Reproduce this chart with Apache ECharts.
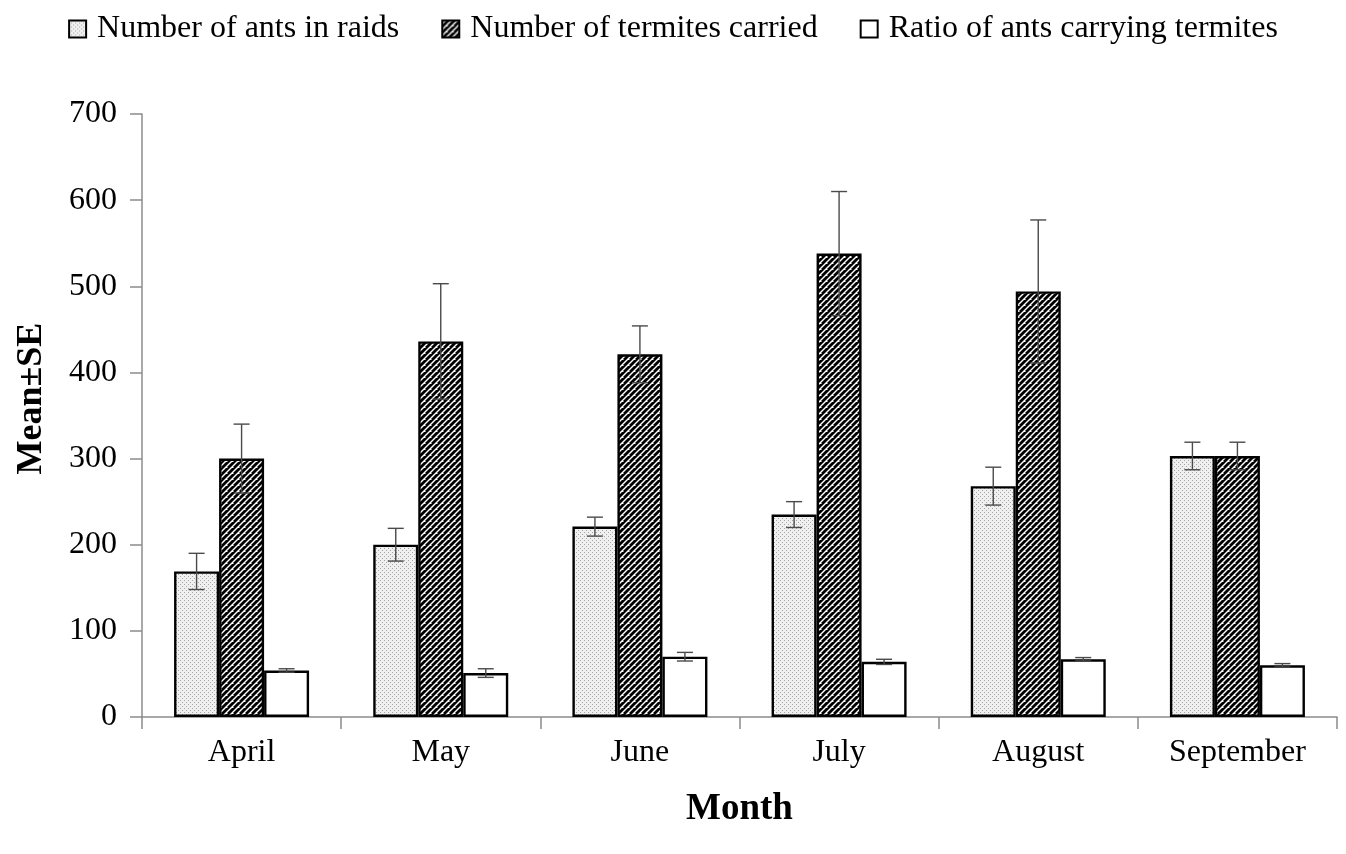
<!DOCTYPE html>
<html>
<head>
<meta charset="utf-8">
<script src="https://cdn.jsdelivr.net/npm/echarts@6/dist/echarts.min.js"></script>
<style>
html,body{margin:0;padding:0;background:#fff;}
#chart{width:1346px;height:854px;}
</style>
</head>
<body>
<div id="chart"></div>
<script>
const months = ['April', 'May', 'June', 'July', 'August', 'September'];
const seriesNames = ['Number of ants in raids', 'Number of termites carried', 'Ratio of ants carrying termites'];
const antsMean = [169, 200, 221, 235, 268, 303];
const antsSE = [21, 19, 11, 15, 22, 16];
const termitesMean = [300, 436, 421, 538, 494, 303];
const termitesSE = [40, 67, 33, 72, 83, 16];
const ratioMean = [54, 51, 70, 64, 67, 60];
const ratioSE = [2, 5, 5, 3, 2, 2];
const yTicks = [0, 100, 200, 300, 400, 500, 600, 700];

function dotPattern() {
  const c = document.createElement('canvas');
  c.width = 4; c.height = 4;
  const g = c.getContext('2d');
  g.fillStyle = '#f0f0f0';
  g.fillRect(0, 0, 4, 4);
  g.fillStyle = '#a4a4a4';
  g.fillRect(0, 0, 1, 1);
  g.fillRect(2, 2, 1, 1);
  return c;
}
function stripePattern() {
  const c = document.createElement('canvas');
  const s = 6;
  c.width = s; c.height = s;
  const g = c.getContext('2d');
  g.fillStyle = '#ffffff';
  g.fillRect(0, 0, s, s);
  g.strokeStyle = '#000000';
  g.lineWidth = 2.8;
  for (let k = -s; k <= 2 * s; k += s) {
    g.beginPath();
    g.moveTo(k - s, s);
    g.lineTo(k + s, -s);
    g.stroke();
  }
  return c;
}

const font = 'Liberation Serif';
const BW = 45;
const offsets = [-BW, 0, BW];
const means = [antsMean, termitesMean, ratioMean];
const ses = [antsSE, termitesSE, ratioSE];
const fills = [
  { image: dotPattern(), repeat: 'repeat' },
  { image: stripePattern(), repeat: 'repeat' },
  '#ffffff'
];

const series = [];
for (let i = 0; i < 3; i++) {
  series.push({
    name: seriesNames[i],
    type: 'bar',
    data: means[i],
    barWidth: BW,
    barGap: '0%',
    itemStyle: { color: fills[i], borderColor: '#000', borderWidth: 2.4 },
    emphasis: { disabled: true },
    z: 2
  });
}
for (let i = 0; i < 3; i++) {
  const data = means[i].map((m, j) => [j, m, ses[i][j]]);
  series.push({
    type: 'custom',
    name: 'err' + i,
    data: data,
    z: 5,
    silent: true,
    renderItem: function (params, api) {
      const x = api.value(0), m = api.value(1), e = api.value(2);
      const hi = api.coord([x, m + e]);
      const lo = api.coord([x, m - e]);
      const cx = hi[0] + offsets[i];
      const cap = 8;
      const st = { stroke: '#4a4a4a', lineWidth: 1.4 };
      return {
        type: 'group',
        children: [
          { type: 'line', shape: { x1: cx, y1: hi[1], x2: cx, y2: lo[1] }, style: st },
          { type: 'line', shape: { x1: cx - cap, y1: hi[1], x2: cx + cap, y2: hi[1] }, style: st },
          { type: 'line', shape: { x1: cx - cap, y1: lo[1], x2: cx + cap, y2: lo[1] }, style: st }
        ]
      };
    }
  });
}

const chart = echarts.init(document.getElementById('chart'), null, { renderer: 'canvas' });
chart.setOption({
  animation: false,
  backgroundColor: '#fff',
  textStyle: { fontFamily: font, color: '#000' },
  legend: {
    data: seriesNames,
    top: 8,
    left: 'center',
    icon: 'rect',
    itemWidth: 17,
    itemHeight: 17,
    itemGap: 42,
    textStyle: { fontFamily: font, fontSize: 32, color: '#000', padding: [0, 0, 0, 6] }
  },
  grid: { left: 142, right: 9, top: 114, bottom: 137, containLabel: false, outerBoundsMode: 'none' },
  xAxis: {
    type: 'category',
    data: months,
    name: 'Month',
    nameLocation: 'middle',
    nameGap: 74,
    nameTextStyle: { fontFamily: font, fontSize: 37, fontWeight: 'bold', color: '#000' },
    axisLine: { lineStyle: { color: '#8c8c8c', width: 1.5 } },
    axisTick: { show: true, length: 12, lineStyle: { color: '#8c8c8c', width: 1.5 } },
    axisLabel: { fontFamily: font, fontSize: 32, color: '#000', margin: 20 },
    splitLine: { show: false }
  },
  yAxis: {
    type: 'value',
    min: 0,
    max: 700,
    interval: 100,
    name: 'Mean±SE',
    nameLocation: 'middle',
    nameGap: 92,
    nameRotate: 90,
    nameTextStyle: { fontFamily: font, fontSize: 36, fontWeight: 'bold', color: '#000', padding: [0, 0, 0, 34] },
    axisLine: { show: true, lineStyle: { color: '#8c8c8c', width: 1.5 } },
    axisTick: { show: true, length: 12, lineStyle: { color: '#8c8c8c', width: 1.5 } },
    axisLabel: { fontFamily: font, fontSize: 32, color: '#000', margin: 25,
      formatter: function (v) { return yTicks.indexOf(v) >= 0 ? String(v) : ''; } },
    splitLine: { show: false }
  },
  series: series
});
</script>
</body>
</html>
